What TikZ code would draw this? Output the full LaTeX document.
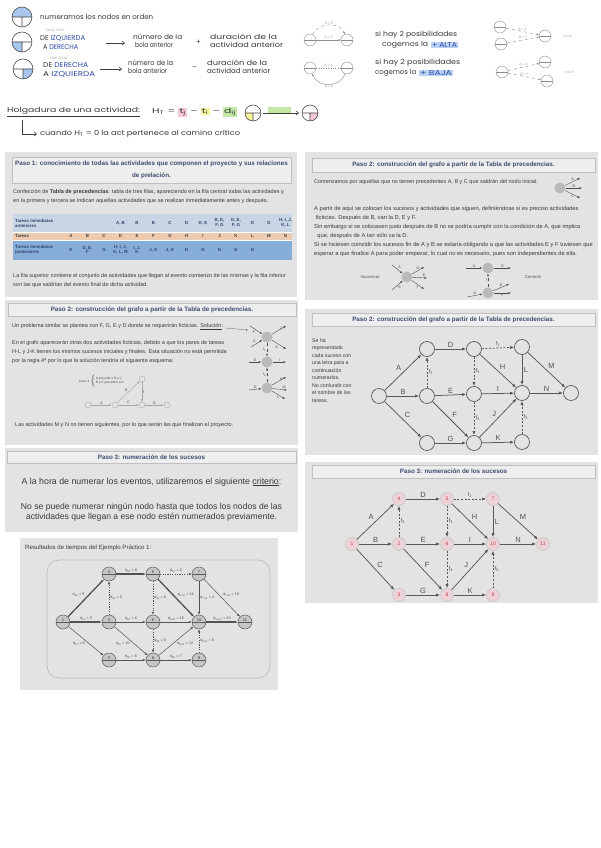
\documentclass[tikz,border=0pt]{standalone}
\usepackage{graphicx}
\usepackage{fontspec}
\setmainfont{Liberation Sans}
\newfontfamily\hand{Poppins}
\usetikzlibrary{arrows.meta,calc}
\definecolor{panelbg}{HTML}{E3E3E3}
\definecolor{titlebg}{HTML}{EEEEEE}
\definecolor{titlecol}{HTML}{3F4C6E}
\definecolor{ptxt}{HTML}{3A3A3A}
\definecolor{ballblue}{HTML}{A9C6EE}
\definecolor{handblue}{HTML}{2E4DA7}
\definecolor{hlblue}{HTML}{B8D2F5}
\definecolor{hlpink}{HTML}{F8C8D6}
\definecolor{hlyellow}{HTML}{F7F39C}
\definecolor{hlgreen}{HTML}{C3E8A6}
\definecolor{rowA}{HTML}{C7D5E5}
\definecolor{rowB}{HTML}{EDCBB0}
\definecolor{rowC}{HTML}{86ACD8}
\definecolor{cellcol}{HTML}{34456B}
\definecolor{nodepink}{HTML}{EDD3D7}
\definecolor{numred}{HTML}{C33A4C}
\setlength{\fboxsep}{0.8pt}
\newcommand\hwfit[2]{\resizebox{#1pt}{\height}{#2}}
\begin{document}
\begin{tikzpicture}[x=1pt,y=-1pt,
  hw/.style={font=\hand\fontsize{7}{8}\selectfont, text=black!78, inner sep=0pt, anchor=west},
  hwfaint/.style={font=\hand\fontsize{3.8}{4.5}\selectfont, text=black!30, inner sep=0pt, anchor=west},
  hwtiny/.style={font=\hand\fontsize{3.3}{4}\selectfont, text=black!40, inner sep=0.8pt},
  hwline/.style={line width=0.55pt, draw=black!75},
  harrow/.style={hwline, -{Straight Barb[length=2.5pt,width=4pt]}},
  sball/.style={circle, draw=black!45, line width=0.4pt, minimum size=12pt, inner sep=0pt,
    path picture={\draw[black!45, line width=0.3pt] (path picture bounding box.west) -- (path picture bounding box.east);}},
  faintarrow/.style={draw=black!45, line width=0.4pt, -{Latex[length=2.2pt,width=2pt]}},
  panel/.style={fill=panelbg, draw=none},
  titlebox/.style={draw=gray!50, fill=titlebg, line width=0.5pt},
  ttl/.style={font=\bfseries\fontsize{6.3}{7}\selectfont, text=titlecol, inner sep=0pt, align=center},
  body/.style={font=\fontsize{5.5}{9}\selectfont, text=ptxt, inner sep=0pt, align=left, anchor=north west},
  sidetxt/.style={font=\fontsize{5.2}{7.5}\selectfont, text=ptxt, inner sep=0pt, align=left, anchor=north west},
  cell/.style={font=\bfseries\fontsize{4.4}{4.9}\selectfont, text=cellcol, inner sep=0pt, align=center},
  gball/.style={circle, fill=gray!55, draw=none, minimum size=11pt, inner sep=0pt},
  sarr/.style={draw=black!70, line width=0.4pt, -{Latex[length=2.5pt,width=2pt]}},
  slab/.style={font=\fontsize{3.6}{4}\selectfont, text=black!70, inner sep=0.8pt},
  tnode/.style={circle, draw=gray!65, line width=0.4pt, minimum size=6pt, inner sep=0pt},
  gnode/.style={circle, draw=gray!75!black, line width=0.75pt, minimum size=15pt, inner sep=0pt},
  gedge/.style={draw=gray!70!black, line width=0.75pt, -{Latex[length=4pt,width=3.2pt]}},
  gdash/.style={gedge, dash pattern=on 2pt off 1.6pt},
  glbl/.style={font=\fontsize{7.5}{8}\selectfont, text=gray!65!black, inner sep=1.5pt},
  flbl/.style={font=\fontsize{5.5}{6}\selectfont, text=gray!65!black, inner sep=1.5pt},
  enode/.style={circle, fill=nodepink, draw=gray!45, line width=0.6pt, minimum size=13pt, inner sep=0pt,
    font=\fontsize{5}{5}\selectfont, text=numred},
  rnode/.style={circle, fill=gray!45, draw=gray!70!black, line width=0.5pt, minimum size=14pt, inner sep=0pt,
    font=\fontsize{4}{4}\selectfont, text=black!80,
    path picture={\draw[gray!70!black, line width=0.4pt] (path picture bounding box.west) -- (path picture bounding box.east);}},
  redge/.style={draw=gray!65!black, line width=0.5pt, -{Latex[length=3pt,width=2.4pt]}},
  rcrit/.style={redge, line width=1.3pt},
  rdash/.style={redge, dash pattern=on 1.2pt off 1.2pt},
  rlab/.style={font=\fontsize{3.7}{4}\selectfont, text=black!70, inner sep=1pt}
]
\useasboundingbox (0,0) rectangle (601,848);
\fill[white] (0,0) rectangle (601,848);

% ---------------- handwritten notes ----------------
% row 1
\fill[ballblue] (32,17) arc[start angle=0,end angle=180,radius=10pt] -- cycle;
\draw[hwline] (22,17) circle[radius=10pt] (12,17) -- (32,17) (22,17) -- (22,27);
\node[hw] (r1) at (40,17) {\hwfit{113}{numeramos los nodos en orden}};
% row 2
\fill[ballblue] (22,42) -- (12,42) arc[start angle=180,end angle=270,radius=10pt] -- cycle;
\draw[hwline] (22,42) circle[radius=10pt] (12,42) -- (32,42) (22,42) -- (22,52);
\node[hwfaint] (r2x) at (46,31) {Early time};
\node[hw] (r2a) at (40,38) {\hwfit{45}{DE \textcolor{handblue}{IZQUIERDA}}};
\node[hw] (r2b) at (43,47) {\hwfit{35}{A \textcolor{handblue}{DERECHA}}};
\coordinate (r2s) at (106,43); \coordinate (r2t) at (125,43);
\draw[harrow] (r2s) -- (r2t);
\node[hw] (r2c) at (133,37) {\hwfit{49}{número de la}};
\node[hw] (r2d) at (135,45) {\hwfit{38}{bola anterior}};
\node[hw] (r2p) at (196,42) {+};
\node[hw] (r2e) at (210,37) {\hwfit{67}{duración de la}};
\node[hw] (r2f) at (210,45) {\hwfit{73}{actividad anterior}};
% row 3
\fill[ballblue] (23,69) -- (23,79) arc[start angle=270,end angle=360,radius=10pt] -- cycle;
\draw[hwline] (23,69) circle[radius=10pt] (13,69) -- (33,69) (23,69) -- (23,79);
\node[hwfaint] (r3x) at (50,58) {Last time};
\node[hw] (r3a) at (43,65) {\hwfit{45}{DE \textcolor{handblue}{DERECHA}}};
\node[hw] (r3b) at (43,74) {\hwfit{52}{A \textcolor{handblue}{IZQUIERDA}}};
\coordinate (r3s) at (100,69); \coordinate (r3t) at (122,69);
\draw[harrow] (r3s) -- (r3t);
\node[hw] (r3c) at (128,63) {\hwfit{45}{número de la}};
\node[hw] (r3d) at (128,71) {\hwfit{39}{bola anterior}};
\node[hw] (r3m) at (192,68) {–};
\node[hw] (r3e) at (207,63) {\hwfit{60}{duración de la}};
\node[hw] (r3f) at (207,71) {\hwfit{63}{actividad anterior}};

% small diagrams top right
\node[sball] (a1) at (310,40) {};
\node[sball] (a2) at (347,40) {};
\draw[faintarrow] (a1) -- node[hwtiny, above] (la1) {A = 3} (a2);
\draw[faintarrow, dashed] (a1) .. controls (318,22) and (340,22) .. node[hwtiny, above] (la2) {B = 5} (a2);
\node[sball] (b1) at (310,68) {};
\node[sball] (b2) at (347,68) {};
\draw[black!45, line width=0.4pt, dotted] (b1) -- node[hwtiny, above] (lb1) {A = 4} (b2);
\draw[faintarrow] (b2) .. controls (340,88) and (318,88) .. node[hwtiny, below] (lb2) {B = 8} (b1);

\node[hw] (s1) at (375,35) {\hwfit{82}{si hay 2 posibilidades}};
\node[hw] (s2) at (382,45) {\hwfit{46}{cogemos la}};
\node[hw, fill=hlblue, inner sep=0.8pt, text=handblue] (s3) at (431,45) {\hwfit{25}{+ ALTA}};
\node[hw] (s4) at (375,63) {\hwfit{85}{si hay 2 posibilidades}};
\node[hw] (s5) at (375,73) {\hwfit{41}{cogemos la}};
\node[hw, fill=hlblue, inner sep=0.8pt, text=handblue] (s6) at (419,73) {\hwfit{32}{+ BAJA}};

\node[sball] (c1) at (500,27) {};
\node[sball] (c2) at (501,44) {};
\node[sball] (c3) at (545,36) {};
\draw[faintarrow, dashed] (c1) -- node[hwtiny, above] (lc1) {A = 2} (c3);
\draw[faintarrow, dashed] (c2) -- node[hwtiny, above] (lc2) {B = 7} (c3);
\node[hwfaint] (nc) at (563,36) {ns el};
\node[sball] (d1) at (502,72) {};
\node[sball] (dd2) at (545,62) {};
\node[sball] (dd3) at (547,81) {};
\draw[faintarrow, dashed] (d1) -- node[hwtiny, above] (ld1) {A = 2} (dd2);
\draw[faintarrow, dashed] (d1) -- node[hwtiny, above] (ld2) {B = 7} (dd3);
\node[hwfaint] (nd) at (565,72) {ns el};

% row 4 : holgura
\node[hw] (h1) at (7,112) {\hwfit{133}{\underline{Holgadura de una actividad:}}};
\node[hw] (h2) at (152,112) {\hwfit{85}{H\textsubscript{T} = \colorbox{hlpink}{t\textsubscript{j}} – \colorbox{hlyellow}{t\textsubscript{i}} – \colorbox{hlgreen}{d\textsubscript{ij}}}};
\fill[hlyellow] (253,113) -- (245,113) arc[start angle=180,end angle=270,radius=8pt] -- cycle;
\draw[hwline] (253,113) circle[radius=8pt] (245,113) -- (261,113) (253,113) -- (253,121);
\fill[hlgreen] (268,107) rectangle (291,113);
\coordinate (hs) at (263,113); \coordinate (ht) at (299,113);
\draw[harrow] (hs) -- (ht);
\fill[hlpink] (310,113) -- (310,121) arc[start angle=270,end angle=360,radius=8pt] -- cycle;
\draw[hwline] (310,113) circle[radius=8pt] (302,113) -- (318,113) (310,113) -- (310,121);
% row 5
\coordinate (k0) at (22,120); \coordinate (k1) at (22,134); \coordinate (k2) at (37,134);
\draw[harrow] (k0) -- (k1) -- (k2);
\node[hw] (h3) at (40,134) {\hwfit{200}{cuando H\textsubscript{T} = 0 la act pertenece al camino crítico}};

% ---------------- Panel A : Paso 1 ----------------
\fill[panel] (5,152) rectangle (297,297);
\draw[titlebox] (12,157) rectangle (291,183);
\node[ttl, font=\bfseries\fontsize{6.3}{12}\selectfont] (p1t) at (151.5,170) {Paso 1: conocimiento de todas las actividades que componen el proyecto y sus relaciones\\de prelación.};
\node[body] (p1a) at (13,189.7) {Confección de \textbf{Tabla de precedencias}: tabla de tres filas, apareciendo en la fila central todas las actividades y\\en la primera y tercera se indican aquellas actividades que se realizan inmediatamente antes y después.};
\fill[rowA] (13,214) rectangle (292,232);
\fill[rowB] (13,232) rectangle (292,240);
\fill[rowC] (13,240) rectangle (292,260);
\draw[white, line width=0.6pt] (13,232) -- (292,232) (13,240) -- (292,240);
\node[cell, anchor=west, align=left] (tl1) at (15,223) {Tareas inmediatas\\anteriores};
\node[cell, anchor=west, text=black!75] (tl2) at (15,236) {Tareas};
\node[cell, anchor=west, align=left] (tl3) at (15,250) {Tareas inmediatas\\posteriores};
\foreach \v [count=\i] in {A,B,C,D,E,F,G,H,I,J,K,L,M,N}
  \node[cell, text=black!75] (tk\i) at ({71+16.5*(\i-1)},236) {\v};
\foreach \v [count=\i from 4] in {{A, B},B,B,C,D,{D, E},{B, E,\\F, G},{D, E,\\F, G},D,D,{H, I, J,\\K, L}}
  \node[cell] (ta\i) at ({71+16.5*(\i-1)},223) {\v};
\foreach \v [count=\i] in {D,{D, E,\\F},G,{H, I, J,\\K, L, M},{I, J,\\K},{J, K},{J, K},N,N,N,N,N}
  \node[cell] (tp\i) at ({71+16.5*(\i-1)},250) {\v};
\node[body] (p1b) at (13,273.7) {La fila superior contiene el conjunto de actividades que llegan al evento comienzo de las mismas y la fila inferior\\son las que saldrían del evento final de dicha actividad.};

% ---------------- Panel B : Paso 2 (right top) ----------------
\fill[panel] (305,152) rectangle (598,300);
\draw[titlebox] (312,158) rectangle (595,172);
\node[ttl] (p2t) at (453.5,165) {Paso 2: construcción del grafo a partir de la Tabla de precedencias.};
\node[body] (p2a) at (314,179.7) {Comenzamos por aquellas que no tienen precedentes A, B y C que saldrán del nodo inicial.};
\node[gball] (ini) at (560,188) {};
\coordinate (iA) at (580,178); \coordinate (iB) at (582,188); \coordinate (iC) at (580,198);
\draw[sarr] (ini) -- node[slab, above] (liA) {A} (iA);
\draw[sarr] (ini) -- node[slab, above] (liB) {B} (iB);
\draw[sarr] (ini) -- node[slab, below] (liC) {C} (iC);
\node[body, font=\fontsize{5.75}{9}\selectfont] (p2b) at (314,205.7) {A partir de aquí se colocan los sucesos y actividades que siguen, definiéndose si es preciso actividades\\\ ficticias. Después de B, van la D, E y F.\\Sin embargo si se colocasen justo después de B no se podría cumplir con la condición de A, que implica\\\ \ que, después de A tan sólo va la D.\\Si se hiciesen coincidir los sucesos fin de A y B se estaría obligando a que las actividades E y F tuviesen que\\esperar a que finalice A para poder empezar, lo cual no es necesario, pues son independientes de ella.};
\node[slab, font=\fontsize{4.2}{4}\selectfont] (inct) at (370,277) {Incorrecto};
\node[gball] (inc) at (407,277) {};
\coordinate (ia) at (392,265); \coordinate (ib) at (392,290);
\coordinate (od) at (424,267); \coordinate (oe) at (427,278); \coordinate (of) at (424,289);
\draw[sarr] (ia) -- node[slab, above right] (lia) {A} (inc);
\draw[sarr] (ib) -- node[slab, below right] (lib) {B} (inc);
\draw[sarr] (inc) -- node[slab, above] (lod) {D} (od);
\draw[sarr] (inc) -- node[slab, above, pos=0.8] (loe) {E} (oe);
\draw[sarr] (inc) -- node[slab, below] (lof) {F} (of);
\node[slab, font=\fontsize{4.2}{4}\selectfont] (cort) at (533,277) {Correcto};
\node[gball] (ctop) at (488,268) {};
\node[gball] (cbot) at (488,293) {};
\coordinate (ca) at (466,268); \coordinate (cd) at (511,268);
\coordinate (cb) at (467,297); \coordinate (ce) at (509,284); \coordinate (cf) at (511,293);
\draw[sarr] (ca) -- node[slab, above] (lca) {A} (ctop);
\draw[sarr] (ctop) -- node[slab, above] (lcd) {D} (cd);
\draw[sarr] (cb) -- node[slab, above] (lcb) {B} (cbot);
\draw[sarr] (cbot) -- node[slab, above] (lce) {E} (ce);
\draw[sarr] (cbot) -- node[slab, below] (lcf) {F} (cf);
\draw[sarr, dashed] (cbot) -- node[slab, left] (lcx) {f} (ctop);

% ---------------- Panel C : Paso 2 (left) ----------------
\fill[panel] (5,300) rectangle (298,445);
\draw[titlebox] (8,303) rectangle (296,316);
\node[ttl] (p3t) at (152,309.5) {Paso 2: construcción del grafo a partir de la Tabla de precedencias.};
\node[body] (p3a) at (12,323.7) {Un problema similar se plantea con F, G, E y D donde se requerirán ficticias. \underline{Solución}:};
\coordinate (sol) at (248,330);
\draw[black!60, line width=0.3pt, -{Latex[length=1.8pt,width=1.6pt]}] (p3a.east) ++(2,1) -- (sol);
\node[body] (p3b) at (12,340.7) {En el grafo aparecerán otras dos actividades ficticias, debido a que los pares de tareas\\H-L y J-K tienen los mismos sucesos iniciales y finales. Esta situación no está permitida\\por la regla 4ª por lo que la solución tendría el siguiente esquema:};
\node[slab, font=\fontsize{3.2}{3.8}\selectfont, anchor=west] (caso) at (78,381) {Caso 4 $\left\{\mbox{\begin{tabular}{@{}l@{}}A precede a B y C\\B y C preceden a D\end{tabular}}\right.$};
\node[tnode] (cc1) at (88,405) {};
\node[tnode] (cc2) at (115,405) {};
\node[tnode] (cc3) at (142,405) {};
\node[tnode] (cc4) at (167,405) {};
\node[tnode] (cc5) at (142,379) {};
\draw[sarr, draw=gray!70] (cc1) -- node[slab, above] (lcc1) {A} (cc2);
\draw[sarr, draw=gray!70] (cc2) -- node[slab, above] (lcc2) {C} (cc3);
\draw[sarr, draw=gray!70] (cc3) -- node[slab, above] (lcc3) {D} (cc4);
\draw[sarr, draw=gray!70] (cc2) -- node[slab, above left] (lcc4) {B} (cc5);
\draw[sarr, draw=gray!70] (cc5) -- node[slab, right] (lcc5) {f} (cc3);
\node[body] (p3c) at (15,422.7) {Las actividades M y N no tienen siguientes, por lo que serán las que finalizan el proyecto.};
% right nodes
\node[gball] (cr1) at (267,337) {};
\node[gball] (cr2) at (267,362) {};
\node[gball] (cr3) at (267,388) {};
\coordinate (q1) at (250,326); \coordinate (q2) at (251,347);
\coordinate (q3) at (286,326); \coordinate (q4) at (286,349);
\coordinate (q5) at (249,362); \coordinate (q6) at (286,362);
\coordinate (q7) at (249,390); \coordinate (q8) at (286,377); \coordinate (q9) at (287,390); \coordinate (q10) at (285,399);
\draw[sarr] (q1) -- node[slab, below left] (lq1) {F} (cr1);
\draw[sarr] (q2) -- node[slab, above left] (lq2) {G} (cr1);
\draw[sarr] (cr1) -- node[slab, above right] (lq3) {J} (q3);
\draw[sarr] (cr1) -- node[slab, below left] (lq4) {K} (q4);
\draw[sarr] (q5) -- node[slab, above] (lq5) {E} (cr2);
\draw[sarr] (cr2) -- node[slab, above] (lq6) {I} (q6);
\draw[sarr] (q7) -- node[slab, above] (lq7) {D} (cr3);
\draw[sarr] (cr3) -- node[slab, above right] (lq8) {H} (q8);
\draw[sarr] (cr3) -- node[slab, above, pos=0.8] (lq9) {M} (q9);
\draw[sarr] (cr3) -- node[slab, below] (lq10) {L} (q10);
\draw[sarr, dashed] (cr1) -- node[slab, left] (lqf1) {f\textsubscript{1}} (cr2);
\draw[sarr, dashed] (cr3) -- node[slab, left] (lqf2) {f\textsubscript{2}} (cr2);

% ---------------- Panel D : Paso 2 graph ----------------
\fill[panel] (305,309) rectangle (598,455);
\draw[titlebox] (312,313) rectangle (595,326);
\node[ttl] (p4t) at (453.5,319.5) {Paso 2: construcción del grafo a partir de la Tabla de precedencias.};
\node[sidetxt] (p4a) at (312,338.5) {Se ha\\representado\\cada suceso con\\una letra para a\\continuación\\numerarlos.\\No confundir con\\el nombre de las\\tareas.};
\foreach \n/\x/\y in {d1/379/396, d2/427/349, d3/427/396, d4/427/443, d5/474/349, d6/474/394, d7/474/443, d8/522/347, d9/522/393, d10/522/442, d11/571/393}
  \node[gnode] (\n) at (\x,\y) {};
\draw[gedge] (d1) -- node[glbl, above left] (lA) {A} (d2);
\draw[gedge] (d1) -- node[glbl, above] (lB) {B} (d3);
\draw[gedge] (d1) -- node[glbl, above right] (lC) {C} (d4);
\draw[gdash] (d3) -- node[flbl, right] (lf2) {f\textsubscript{2}} (d2);
\draw[gedge] (d2) -- node[glbl, above] (lD) {D} (d5);
\draw[gedge] (d3) -- node[glbl, above] (lE) {E} (d6);
\draw[gedge] (d3) -- node[glbl, above right] (lF) {F} (d7);
\draw[gedge] (d4) -- node[glbl, above] (lG) {G} (d7);
\draw[gdash] (d5) -- node[flbl, above] (lf1) {f\textsubscript{1}} (d8);
\draw[gdash] (d5) -- node[flbl, right] (lf3) {f\textsubscript{3}} (d6);
\draw[gdash] (d6) -- node[flbl, right] (lf4) {f\textsubscript{4}} (d7);
\draw[gedge] (d5) -- node[glbl, above right] (lH) {H} (d9);
\draw[gedge] (d6) -- node[glbl, above] (lI) {I} (d9);
\draw[gedge] (d7) -- node[glbl, above left] (lJ) {J} (d9);
\draw[gedge] (d7) -- node[glbl, above] (lK) {K} (d10);
\draw[gedge] (d8) -- node[glbl, right] (lL) {L} (d9);
\draw[gedge] (d8) -- node[glbl, above right] (lM) {M} (d11);
\draw[gedge] (d9) -- node[glbl, above] (lN) {N} (d11);
\draw[gdash] (d10) -- node[flbl, right] (lf5) {f\textsubscript{5}} (d9);

% ---------------- Panel F : Paso 3 criterio ----------------
\fill[panel] (5,448) rectangle (298,532);
\draw[titlebox] (7,451) rectangle (296,463);
\node[ttl] (p5t) at (151.5,457) {Paso 3: numeración de los sucesos};
\node[font=\fontsize{8.8}{9}\selectfont, text=ptxt, inner sep=0pt] (p5a) at (151.5,482) {A la hora de numerar los eventos, utilizaremos el siguiente \underline{criterio}:};
\node[font=\fontsize{8.6}{10.5}\selectfont, text=ptxt, inner sep=0pt, align=center] (p5b) at (151.5,512) {No se puede numerar ningún nodo hasta que todos los nodos de las\\actividades que llegan a ese nodo estén numerados previamente.};

% ---------------- Panel E : Paso 3 numbered graph ----------------
\fill[panel] (305,462) rectangle (598,603);
\draw[titlebox] (312,465) rectangle (595,478);
\node[ttl] (p6t) at (453.5,471.5) {Paso 3: numeración de los sucesos};
\foreach \n/\t/\x/\y in {e1/1/352/544, e4/4/399/499, e2/2/399/544, e3/3/399/595, e5/5/447/499, e6/6/447/544, e8/8/447/595, e7/7/493/499, e10/10/493/544, e9/9/493/595, e11/11/543/544}
  \node[enode] (\n) at (\x,\y) {\t};
\draw[gedge] (e1) -- node[glbl, above left] (mA) {A} (e4);
\draw[gedge] (e1) -- node[glbl, above] (mB) {B} (e2);
\draw[gedge] (e1) -- node[glbl, above right] (mC) {C} (e3);
\draw[gdash] (e2) -- node[flbl, right] (mf2) {f\textsubscript{2}} (e4);
\draw[gedge] (e4) -- node[glbl, above] (mD) {D} (e5);
\draw[gedge] (e2) -- node[glbl, above] (mE) {E} (e6);
\draw[gedge] (e2) -- node[glbl, above right] (mF) {F} (e8);
\draw[gedge] (e3) -- node[glbl, above] (mG) {G} (e8);
\draw[gdash] (e5) -- node[flbl, above] (mf1) {f\textsubscript{1}} (e7);
\draw[gdash] (e5) -- node[flbl, right] (mf3) {f\textsubscript{3}} (e6);
\draw[gdash] (e6) -- node[flbl, right] (mf4) {f\textsubscript{4}} (e8);
\draw[gedge] (e5) -- node[glbl, above right] (mH) {H} (e10);
\draw[gedge] (e6) -- node[glbl, above] (mI) {I} (e10);
\draw[gedge] (e8) -- node[glbl, above left] (mJ) {J} (e10);
\draw[gedge] (e8) -- node[glbl, above] (mK) {K} (e9);
\draw[gedge] (e7) -- node[glbl, right] (mL) {L} (e10);
\draw[gedge] (e7) -- node[glbl, above right] (mM) {M} (e11);
\draw[gedge] (e10) -- node[glbl, above] (mN) {N} (e11);
\draw[gdash] (e9) -- node[flbl, right] (mf5) {f\textsubscript{5}} (e10);

% ---------------- Panel G : resultados ----------------
\fill[panel] (20,538) rectangle (278,690);
\node[font=\fontsize{6.1}{7}\selectfont, text=ptxt, inner sep=0pt, anchor=west] (p7t) at (25,548) {Resultados de tiempos del Ejemplo Práctico 1:};
\draw[gray!55, line width=0.6pt, rounded corners=12pt] (47,560) rectangle (270,678);
\foreach \n/\t/\x/\y in {g1/1/63/622, g2/2/109/622, g3/3/109/660, g4/4/109/574, g5/5/153/574, g6/6/153/622, g8/8/153/660, g7/7/199/574, g10/10/199/622, g9/9/199/660, g11/11/245/622}
  \node[rnode] (\n) at (\x,\y) {\raisebox{4.2pt}{\t}};
\draw[rcrit] (g1) -- node[rlab, above left] (r14) {d\textsubscript{14} = 5} (g4);
\draw[rcrit] (g1) -- node[rlab, above] (r12) {d\textsubscript{12} = 5} (g2);
\draw[redge] (g1) -- node[rlab, below left] (r13) {d\textsubscript{13} = 8} (g3);
\draw[rdash] (g2) -- node[rlab, right] (r24) {d\textsubscript{24} = 0} (g4);
\draw[rcrit] (g4) -- node[rlab, above] (r45) {d\textsubscript{45} = 8} (g5);
\draw[rdash] (g5) -- node[rlab, above] (r57) {d\textsubscript{57} = 0} (g7);
\draw[rcrit] (g5) -- node[rlab, above right] (r510) {d\textsubscript{5,10} = 14} (g10);
\draw[rdash] (g5) -- node[rlab, right] (r56) {d\textsubscript{56} = 0} (g6);
\draw[redge] (g7) -- node[rlab, right] (r710) {d\textsubscript{7,10} = 2} (g10);
\draw[redge] (g7) -- node[rlab, above right] (r711) {d\textsubscript{7,11} = 10} (g11);
\draw[redge] (g2) -- node[rlab, above] (r26) {d\textsubscript{26} = 6} (g6);
\draw[redge] (g6) -- node[rlab, above] (r610) {d\textsubscript{6,10} = 15} (g10);
\draw[rcrit] (g10) -- node[rlab, above] (r1011) {d\textsubscript{10,11} = 10} (g11);
\draw[redge] (g2) -- node[rlab, below left] (r28) {d\textsubscript{28} = 10} (g8);
\draw[rdash] (g6) -- node[rlab, right] (r68) {d\textsubscript{68} = 0} (g8);
\draw[redge] (g8) -- node[rlab, below right] (r810) {d\textsubscript{8,10} = 12} (g10);
\draw[rdash] (g9) -- node[rlab, right] (r910) {d\textsubscript{9,10} = 0} (g10);
\draw[redge] (g3) -- node[rlab, above] (r38) {d\textsubscript{38} = 6} (g8);
\draw[redge] (g8) -- node[rlab, above] (r89) {d\textsubscript{89} = 7} (g9);
\end{tikzpicture}
\end{document}
